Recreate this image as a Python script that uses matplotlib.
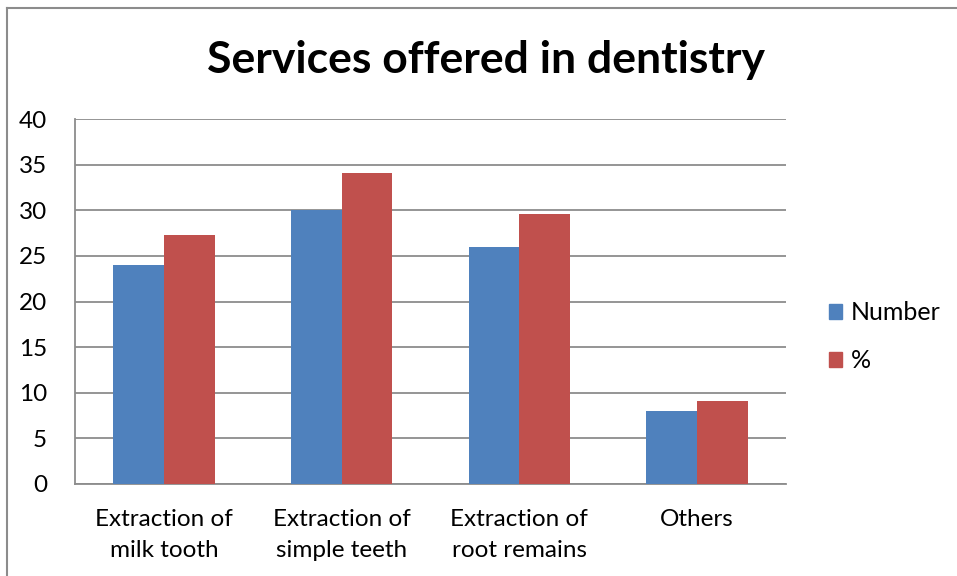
import numpy as np
import matplotlib.pyplot as plt
from matplotlib.lines import Line2D
from matplotlib.patches import Patch

categories = ['Extraction of\nmilk tooth', 'Extraction of\nsimple teeth',
              'Extraction of\nroot remains', 'Others']
number = [24, 30, 26, 8]
percent = [27.27, 34.09, 29.55, 9.09]
series_names = ['Number', '%']

blue = '#4F81BD'
red = '#C0504D'
grid_gray = '#8C8C8C'

plt.rcParams['font.family'] = ['Lato', 'DejaVu Sans']

W, H = 957, 576
fig = plt.figure(figsize=(W / 100, H / 100), dpi=100)

# plot area in pixel coordinates
left, right, top, bottom = 75, 786, 119, 484
ax = fig.add_axes([left / W, 1 - bottom / H, (right - left) / W, (bottom - top) / H])

x = np.arange(len(categories))
gap = 1.5
bw = 1 / (2 + gap)
ax.bar(x - bw / 2, number, bw, color=blue, zorder=3)
ax.bar(x + bw / 2, percent, bw, color=red, zorder=3)

ax.set_xlim(-0.5, len(categories) - 0.5)
ax.set_ylim(0, 40)
ax.set_yticks(range(0, 41, 5))
ax.yaxis.grid(True, color=grid_gray, linewidth=1.3, zorder=0)
ax.set_axisbelow(True)

for s in ['right', 'top']:
    ax.spines[s].set_visible(False)
for s in ['left', 'bottom']:
    ax.spines[s].set_color(grid_gray)
    ax.spines[s].set_linewidth(1.3)

ax.tick_params(axis='y', length=0, pad=20, labelsize=17.5)
ax.tick_params(axis='x', length=0, pad=18, labelsize=17.5)
ax.set_xticks(x)
ax.set_xticklabels(categories, linespacing=1.6)

fig.text(486 / W, 1 - 60 / H, 'Services offered in dentistry',
         ha='center', va='center', fontsize=32, fontweight='bold')

handles = [Patch(color=blue), Patch(color=red)]
fig.legend(handles, series_names, loc='center left',
           bbox_to_anchor=(806 / W, 1 - 337 / H), frameon=False,
           fontsize=18, handlelength=0.55, handleheight=0.55,
           handletextpad=0.35, labelspacing=1.0)

# outer chart frame
fig.add_artist(Line2D([6.5 / W, 6.5 / W], [0, 1 - 7.5 / H],
                      transform=fig.transFigure, color='#8C8C8C', linewidth=1.5))
fig.add_artist(Line2D([6.5 / W, 1], [1 - 7.5 / H, 1 - 7.5 / H],
                      transform=fig.transFigure, color='#8C8C8C', linewidth=1.5))

fig.savefig('out.png', dpi=100)
